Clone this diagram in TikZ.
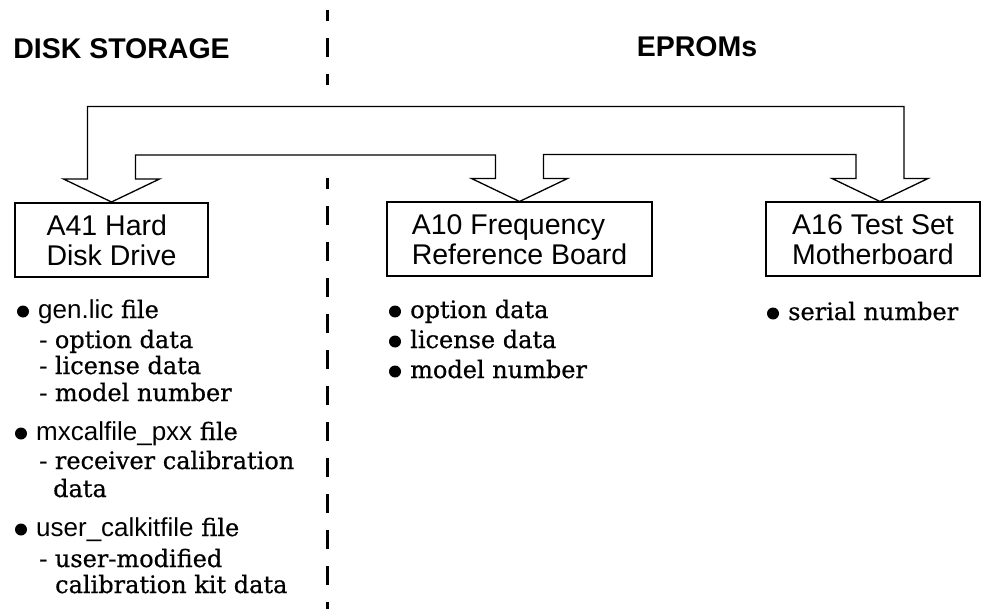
\documentclass[tikz,border=0pt]{standalone}
\usepackage{fontspec}
\setmainfont{DejaVu Serif}[FakeBold=0.6]
\newfontfamily\helv{Liberation Sans}
\usetikzlibrary{calc,positioning}

\newcommand{\swname}[1]{{\helv\fontsize{26}{28}\selectfont #1}}

\tikzset{
  unit/.style={draw,line width=2pt,font=\helv\fontsize{28.5}{30}\selectfont,
    align=left,minimum height=74pt,inner sep=0pt},
  item/.style={font=\fontsize{24}{26}\selectfont,inner sep=0pt,anchor=base west},
  heading/.style={font=\helv\bfseries\fontsize{28.5}{30}\selectfont,inner sep=0pt,anchor=base},
  hollow/.style={line width=1.3pt,line join=miter},
  divider/.style={line width=2.5pt,dash pattern=on 19pt off 17pt,dash phase=8pt}
}

\begin{document}
\begin{tikzpicture}[x=1pt,y=-1pt]
\useasboundingbox (0,0) rectangle (981,609);

% headings and divider
\node[heading] (disk) at (121.5,59) {DISK STORAGE};
\node[heading] (eprom) at (697,57) {EPROMs};
\draw[divider] (327.5,10) -- (327.5,85);
\draw[divider] (327.5,178) -- (327.5,609);

% boards
\node[unit,minimum width=193pt] (a41) at (111.5,240) {A41 Hard\\Disk Drive};
\node[unit,minimum width=265pt] (a10) at (519.5,239.5) {A10 Frequency\\Reference Board};
\node[unit,minimum width=214pt] (a16) at (873,239.5) {A16 Test Set\\Motherboard};

% hollow arrows
\coordinate (tA) at (a41.north);
\coordinate (tB) at (a10.north);
\coordinate (tC) at ($(a16.north)+(7,0)$);
\draw[hollow] (tA) -- ++(-48,-23) -- ++(24,0) |- ($(tC)+(24,-95)$)
  -- ++(0,72) -- ++(24,0) -- (tC) -- ++(-48,-23) -- ++(24,0)
  |- ($(tB)+(24,-47)$) -- ++(0,24) -- ++(24,0) -- (tB)
  -- ++(-48,-23) -- ++(24,0) |- ($(tA)+(24,-47)$) -- ++(0,24)
  -- ++(24,0) -- cycle;

% contents
\foreach \n/\x/\y/\t in {
  g1/38/318/{\swname{gen.lic} file},
  g2/39/348/{- option data},
  g3/39/374/{- license data},
  g4/39/401/{- model number},
  m1/36/440/{\swname{mxcalfile\_pxx} file},
  m2/39/469/{- receiver calibration},
  m3/53/497/{data},
  u1/36/536/{\swname{user\_calkitfile} file},
  u2/39/567/{- user-modified},
  u3/55/593/{calibration kit data},
  o1/410/318/{option data},
  l1/410/348/{license data},
  n1/410/378/{model number},
  s1/788/320/{serial number}}
  \node[item] (\n) at (\x,\y) {\t};

\foreach \n in {g1,m1,u1,o1,l1,n1,s1}
  \fill ($(\n.base west)+(-15,-6.5)$) circle (6pt);
\end{tikzpicture}
\end{document}
